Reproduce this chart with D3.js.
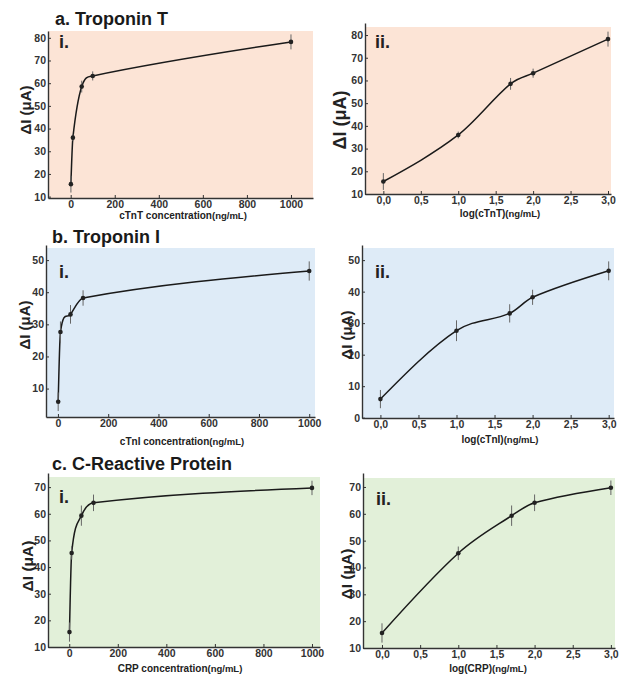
<!DOCTYPE html>
<html>
<head>
<meta charset="utf-8">
<script src="https://cdn.jsdelivr.net/npm/d3@7"></script>
<style>
  body { margin: 0; background: #fff; }
  text { font-family: "Liberation Sans", Arial, sans-serif; }
</style>
</head>
<body>
<svg id="fig" width="621" height="675"></svg>
<script>
// concentrations tested (ng/mL), same for all three biomarkers
var concentrations = [1, 10, 50, 100, 1000];

// current change (uA) and error bars
var tntSignal = [15.5, 36, 58.5, 63.2, 78.2];
var tntError = [3.7, 1.5, 2.6, 2, 3.3];
var tniSignal = [5.9, 27.6, 33.1, 38.2, 46.6];
var tniError = [2.9, 3.3, 2.9, 2.4, 3];
var crpSignal = [15.6, 45.3, 59.3, 64.1, 69.7];
var crpError = [3.6, 2.5, 3.8, 3.1, 2.7];

// tick labels
var linTicks = [0, 200, 400, 600, 800, 1000];
var logTicks = [0, 0.5, 1, 1.5, 2, 2.5, 3];
var logTickLabels = ["0,0", "0,5", "1,0", "1,5", "2,0", "2,5", "3,0"];
var yTicksA = [10, 20, 30, 40, 50, 60, 70, 80];
var yTicksBi = [10, 20, 30, 40, 50];
var yTicksBii = [0, 10, 20, 30, 40, 50];
var yTicksC = [10, 20, 30, 40, 50, 60, 70];

var titles = ["a. Troponin T", "b. Troponin I", "c. C-Reactive Protein"];
var xNames = ["cTnT concentration", "log(cTnT)", "cTnI concentration", "log(cTnI)", "CRP concentration", "log(CRP)"];

var fig = d3.select("#fig");

function buildPoints(signal, err, useLog) {
    return concentrations.map(function (c, i) {
        return { x: useLog ? Math.log10(c) : c, y: signal[i], e: err[i] };
    });
}

// hermite spline in x; the slope at each point leans toward the longer neighbour segment
function splinePath(pts, x, y) {
    var n = pts.length;
    var s = [], h = [], m = [];
    for (var i = 0; i < n - 1; i++) {
        h[i] = pts[i + 1].x - pts[i].x;
        s[i] = (pts[i + 1].y - pts[i].y) / h[i];
    }
    for (i = 1; i < n - 1; i++) {
        m[i] = (s[i - 1] * h[i - 1] + s[i] * h[i]) / (h[i - 1] + h[i]);
    }
    m[0] = (3 * s[0] - m[1]) / 2;
    m[n - 1] = (3 * s[n - 2] - m[n - 2]) / 2;

    var path = d3.path();
    path.moveTo(x(pts[0].x), y(pts[0].y));
    for (i = 0; i < n - 1; i++) {
        var a = pts[i], b = pts[i + 1], d = h[i] / 3;
        path.bezierCurveTo(
            x(a.x + d), y(a.y + m[i] * d),
            x(b.x - d), y(b.y - m[i + 1] * d),
            x(b.x), y(b.y));
    }
    return path.toString();
}

function drawPanel(p) {
    var x = d3.scaleLinear().domain(p.xDomain).range([p.left, p.right]);
    var y = d3.scaleLinear().domain(p.yDomain).range([p.bottom, p.top]);

    fig.append("rect")
        .attr("x", p.left)
        .attr("y", p.bgTop)
        .attr("width", p.right - p.left)
        .attr("height", p.bottom - p.bgTop)
        .attr("fill", p.fill);

    var xAxis = d3.axisBottom(x)
        .tickValues(p.xTicks)
        .tickFormat(function (d, i) { return p.xLabels ? p.xLabels[i] : d; })
        .tickSizeInner(-3)
        .tickSizeOuter(0)
        .tickPadding(3);
    var yAxis = d3.axisLeft(y)
        .tickValues(p.yTicks)
        .tickSizeInner(-3)
        .tickSizeOuter(0)
        .tickPadding(2);

    var gx = fig.append("g").attr("transform", "translate(0," + p.bottom + ")").call(xAxis);
    var gy = fig.append("g").attr("transform", "translate(" + p.left + ",0)").call(yAxis);
    [gx, gy].forEach(function (g) {
        g.select(".domain").attr("stroke", "#333").attr("stroke-width", 1.4);
        g.selectAll(".tick line").attr("stroke", "#333");
        g.selectAll("text")
            .attr("fill", "#333")
            .style("font-size", "10.5px")
            .style("font-weight", "bold");
    });

    fig.append("path")
        .attr("d", splinePath(p.points, x, y))
        .attr("fill", "none")
        .attr("stroke", "#1a1a1a")
        .attr("stroke-width", 1.5);

    //error bars
    fig.selectAll(null)
        .data(p.points)
        .enter()
        .append("line")
        .attr("x1", function (d) { return x(d.x); })
        .attr("x2", function (d) { return x(d.x); })
        .attr("y1", function (d) { return y(d.y - d.e); })
        .attr("y2", function (d) { return y(d.y + d.e); })
        .attr("stroke", "#666")
        .attr("stroke-width", 1);

    fig.selectAll(null)
        .data(p.points)
        .enter()
        .append("circle")
        .attr("cx", function (d) { return x(d.x); })
        .attr("cy", function (d) { return y(d.y); })
        .attr("r", 2.3)
        .attr("fill", "#222");

    // panel number
    fig.append("text")
        .attr("x", p.tagX)
        .attr("y", p.tagY)
        .text(p.tag)
        .style("font-size", "18px")
        .style("font-weight", "bold")
        .attr("fill", "#222");

    // y label
    fig.append("text")
        .attr("transform", "translate(" + p.yLabX + "," + p.yLabY + ") rotate(-90)")
        .attr("text-anchor", "middle")
        .attr("dominant-baseline", "central")
        .style("font-size", p.yLabSize + "px")
        .style("font-weight", "bold")
        .attr("fill", "#222")
        .text("\u0394I (\u03bcA)");

    // x label
    var xl = fig.append("text")
        .attr("x", p.xLabX)
        .attr("y", p.xLabY)
        .attr("text-anchor", "middle")
        .style("font-weight", "bold")
        .attr("fill", "#222");
    xl.append("tspan").style("font-size", "10px").text(p.xName);
    xl.append("tspan").style("font-size", "9.5px").text("(ng/mL)");
}

var fills = ["#fce4d6", "#deebf7", "#e2f0d9"];

var panels = [
    { left: 48, right: 313, top: 31, bottom: 198, bgTop: 31, xDomain: [-103, 1100], yDomain: [9.4, 83],
      xTicks: linTicks, yTicks: yTicksA, signal: tntSignal, err: tntError, log: false, fill: fills[0],
      tag: "i.", tagX: 59, tagY: 48, yLabX: 25, yLabY: 110, yLabSize: 15, xLabX: 183, xLabY: 219, xName: xNames[0] },
    { left: 365, right: 611, top: 23, bottom: 194, bgTop: 27, xDomain: [-0.245, 3.04], yDomain: [10, 85.3],
      xTicks: logTicks, xLabels: logTickLabels, yTicks: yTicksA, signal: tntSignal, err: tntError, log: true, fill: fills[0],
      tag: "ii.", tagX: 375, tagY: 48, yLabX: 340, yLabY: 120, yLabSize: 18, xLabX: 500, xLabY: 217, xName: xNames[1] },
    { left: 46, right: 315, top: 245, bottom: 417, bgTop: 248, xDomain: [-47.5, 1023], yDomain: [1.15, 54.7],
      xTicks: linTicks, yTicks: yTicksBi, signal: tniSignal, err: tniError, log: false, fill: fills[1],
      tag: "i.", tagX: 59, tagY: 278, yLabX: 24, yLabY: 325, yLabSize: 15, xLabX: 182, xLabY: 445, xName: xNames[2] },
    { left: 362, right: 614, top: 245, bottom: 418, bgTop: 248, xDomain: [-0.242, 3.07], yDomain: [-0.1, 54.8],
      xTicks: logTicks, xLabels: logTickLabels, yTicks: yTicksBii, signal: tniSignal, err: tniError, log: true, fill: fills[1],
      tag: "ii.", tagX: 375, tagY: 278, yLabX: 346, yLabY: 335, yLabSize: 15, xLabX: 500, xLabY: 443, xName: xNames[3] },
    { left: 48, right: 320, top: 473, bottom: 647, bgTop: 477, xDomain: [-87.5, 1033], yDomain: [10, 75.3],
      xTicks: linTicks, yTicks: yTicksC, signal: crpSignal, err: crpError, log: false, fill: fills[2],
      tag: "i.", tagX: 59, tagY: 503, yLabX: 27, yLabY: 566, yLabSize: 15.5, xLabX: 180, xLabY: 672, xName: xNames[4] },
    { left: 363, right: 615, top: 473, bottom: 648, bgTop: 478, xDomain: [-0.249, 3.054], yDomain: [10, 75.2],
      xTicks: logTicks, xLabels: logTickLabels, yTicks: yTicksC, signal: crpSignal, err: crpError, log: true, fill: fills[2],
      tag: "ii.", tagX: 376, tagY: 505, yLabX: 346, yLabY: 574, yLabSize: 15.5, xLabX: 488, xLabY: 672, xName: xNames[5] }
];

panels.forEach(function (p) {
    p.points = buildPoints(p.signal, p.err, p.log);
    drawPanel(p);
});

// section titles
var titlePos = [[55, 25], [52, 243], [52, 470]];
fig.selectAll(".title")
    .data(titles)
    .enter()
    .append("text")
    .attr("class", "title")
    .attr("x", function (d, i) { return titlePos[i][0]; })
    .attr("y", function (d, i) { return titlePos[i][1]; })
    .text(function (d) { return d; })
    .style("font-size", "18px")
    .style("font-weight", "bold")
    .attr("fill", "#1a1a1a");
</script>
</body>
</html>
